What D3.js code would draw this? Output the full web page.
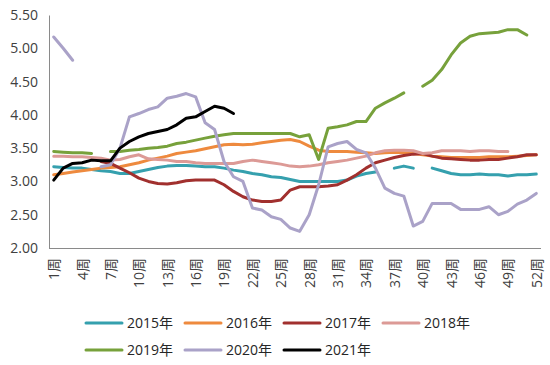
<!DOCTYPE html>
<html>
<head>
<meta charset="utf-8">
<script src="https://cdn.jsdelivr.net/npm/d3@7"></script>
<style>
  html, body { margin: 0; padding: 0; background: #fff; }
  svg { display: block; }
  text { font-family: "Open Sans", "Noto Sans CJK SC", sans-serif; }
</style>
</head>
<body>
<svg id="chart" width="550" height="365"></svg>
<script>
const weeks = d3.range(1, 53);
const tickWeeks = d3.range(1, 53, 3);
const yTicks = [2.0, 2.5, 3.0, 3.5, 4.0, 4.5, 5.0, 5.5];
const seriesNames = ["2015年", "2016年", "2017年", "2018年", "2019年", "2020年", "2021年"];
const seriesColors = ["#35a0ae", "#ee8a3e", "#a1302e", "#dc9a96", "#77a13b", "#aaa2c8", "#000000"];

const _ = null;
const v2015 = [3.22,3.21,3.2,3.2,3.18,3.16,3.15,3.12,3.12,3.15,3.18,3.21,3.23,3.24,3.24,
  3.23,3.22,3.22,3.2,3.17,3.15,3.12,3.1,3.07,3.06,3.03,3.0,3.0,3.0,3.0,3.0,3.02,3.08,3.12,3.14,
  _,3.2,3.23,3.2,_,3.2,3.16,3.12,3.1,3.1,3.11,3.1,3.1,3.08,3.1,3.1,3.11];
const v2016 = [3.1,3.12,3.14,3.16,3.18,3.2,3.21,3.22,3.25,3.28,
  3.32,3.35,3.38,3.42,3.44,3.46,3.49,3.52,3.55,3.56,
  3.55,3.56,3.58,3.6,3.62,3.63,3.6,3.53,3.47,3.45,
  3.45,3.45,3.44,3.43,3.42,3.43,3.44,3.43,3.42,3.4,
  3.38,3.37,3.36,3.36,3.36,3.36,3.37,3.37,3.37,3.38,3.39,3.4];
const v2017 = [_,_,_,_,_,3.3,3.27,3.2,3.13,3.05,
  3.0,2.97,2.96,2.98,3.01,3.02,3.02,3.02,2.95,2.85,
  2.77,2.72,2.7,2.7,2.72,2.87,2.92,2.92,2.92,2.93,
  2.95,3.02,3.1,3.2,3.28,3.32,3.36,3.39,3.41,3.42,
  3.38,3.35,3.34,3.33,3.32,3.32,3.33,3.33,3.35,3.37,3.4,3.4];
const v2018 = [3.38,3.38,3.37,3.37,3.36,3.35,3.32,3.33,3.37,3.4,
  3.34,3.33,3.32,3.3,3.3,3.28,3.27,3.27,3.27,3.27,
  3.3,3.32,3.3,3.28,3.26,3.23,3.22,3.23,3.25,3.28,
  3.3,3.32,3.35,3.38,3.43,3.46,3.47,3.47,3.46,3.42,
  3.43,3.46,3.46,3.46,3.45,3.46,3.46,3.45,3.45,_,_,_];
const v2019 = [3.45,3.44,3.43,3.43,3.42,_,
  3.45,3.45,3.47,3.48,3.5,3.51,3.53,3.57,3.59,3.62,
  3.65,3.68,3.7,3.72,3.72,3.72,3.72,3.72,3.72,3.72,
  3.67,3.7,3.33,3.8,3.82,3.85,3.9,3.9,4.1,4.18,4.25,4.33,
  _,4.43,4.52,4.68,4.9,5.08,5.18,5.22,5.23,5.24,5.28,5.28,5.2,_];
const v2020 = [5.17,5.0,4.82,_,_,
  3.22,3.25,3.5,3.97,4.02,
  4.08,4.12,4.25,4.28,4.32,4.27,3.88,3.78,3.3,3.07,
  3.0,2.6,2.57,2.47,2.43,2.3,2.25,2.5,2.95,3.52,
  3.57,3.6,3.48,3.43,3.2,2.9,2.82,2.78,2.33,2.4,
  2.67,2.67,2.67,2.58,2.58,2.58,2.62,2.5,2.55,2.66,2.72,2.82];
const v2021 = [3.02,3.2,3.27,3.28,3.32,3.31,3.31,3.5,3.6,3.67,
  3.72,3.75,3.78,3.85,3.95,3.97,4.05,4.13,4.1,4.02,
  _,_,_,_,_,_,_,_,_,_,_,_,_,_,_,_,_,_,_,_,_,_,_,_,_,_,_,_,_,_,_,_];

const seriesValues = [v2015, v2016, v2017, v2018, v2019, v2020, v2021];

const svg = d3.select("#chart");
const plotLeft = 49, plotRight = 541, plotTop = 15, plotBottom = 248;

const x = d3.scalePoint().domain(weeks).range([plotLeft, plotRight]).padding(0.5);
const y = d3.scaleLinear().domain([2, 5.5]).range([plotBottom, plotTop]);

// Y axis
const yAxis = svg.append("g")
  .attr("transform", `translate(${plotLeft},0)`)
  .call(d3.axisLeft(y).tickValues(yTicks).tickFormat(d3.format(".2f")).tickSize(0).tickSizeOuter(0).tickPadding(11));
yAxis.select(".domain").attr("stroke", "#8a8a8a").attr("stroke-width", 1);
yAxis.selectAll("text").attr("font-size", 14).attr("fill", "#404040")
  .style("font-family", '"Open Sans", sans-serif');

// X axis
const xAxis = svg.append("g")
  .attr("transform", `translate(0,${plotBottom})`)
  .call(d3.axisBottom(x).tickValues(tickWeeks).tickFormat(d => d + "周").tickSize(0).tickSizeOuter(0));
xAxis.select(".domain").attr("stroke", "#8a8a8a").attr("stroke-width", 1)
  .attr("d", `M${plotLeft},0.5H${plotRight}`);
xAxis.selectAll("text")
  .attr("font-size", 14)
  .attr("fill", "#404040")
  .attr("transform", "rotate(-90)")
  .attr("text-anchor", "end")
  .attr("x", -10)
  .attr("y", 0)
  .attr("dy", "0.35em");

// Lines
const line = d3.line()
  .defined(d => d.v !== null)
  .x(d => x(d.w))
  .y(d => y(d.v));

seriesValues.forEach((vals, i) => {
  const pts = weeks.map((w, j) => ({ w: w, v: vals[j] }));
  svg.append("path")
    .datum(pts)
    .attr("fill", "none")
    .attr("stroke", seriesColors[i])
    .attr("stroke-width", 3)
    .attr("stroke-linejoin", "round")
    .attr("stroke-linecap", "round")
    .attr("d", line);
});

// Legend
const legendRows = [[0, 1, 2, 3], [4, 5, 6]];
const legendY = [323, 350];
const legendX0 = 86, legendStep = 99;
legendRows.forEach((row, r) => {
  row.forEach((si, c) => {
    const gx = legendX0 + c * legendStep;
    const g = svg.append("g");
    g.append("line")
      .attr("x1", gx).attr("x2", gx + 36)
      .attr("y1", legendY[r]).attr("y2", legendY[r])
      .attr("stroke", seriesColors[si]).attr("stroke-width", 3)
      .attr("stroke-linecap", "round");
    g.append("text")
      .attr("x", gx + 41).attr("y", legendY[r]).attr("dy", "0.35em")
      .attr("font-size", 14).attr("fill", "#262626")
      .text(seriesNames[si]);
  });
});
</script>
</body>
</html>
